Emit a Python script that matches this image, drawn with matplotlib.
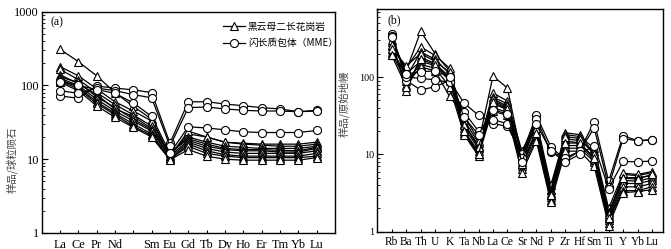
import numpy as np
import matplotlib
matplotlib.use("Agg")
import matplotlib.pyplot as plt
from matplotlib.ticker import LogLocator, NullFormatter, FixedLocator, FixedFormatter

# ---------------- data ----------------
ree_labels = ["La", "Ce", "Pr", "Nd", "", "Sm", "Eu", "Gd", "Tb", "Dy", "Ho", "Er", "Tm", "Yb", "Lu"]

granite_ree = [
    [310, 210, 135, 80, 52, 35, 11, 22, 20, 17, 16.5, 16, 16, 16, 17],
    [180, 135, 90, 60, 45, 33, 11, 24, 20, 17, 16, 15.5, 15, 15, 16],
    [165, 120, 80, 55, 40, 28, 12, 20, 17, 15, 14.5, 14, 14, 14, 15],
    [140, 105, 75, 48, 38, 26, 12, 19, 16, 14, 13.5, 13.5, 13.2, 13, 14.5],
    [130, 110, 70, 50, 35, 25, 11, 18, 15, 13.5, 13, 13, 12.5, 12.5, 14],
    [125, 100, 65, 45, 33, 24, 10.5, 17, 14, 12.5, 12, 12, 12, 12, 13],
    [120, 95, 60, 42, 30, 22, 10, 16, 13, 11.5, 11, 11, 11, 11, 12],
    [115, 90, 57, 40, 28, 21, 10, 15, 12, 11, 10.5, 10.5, 10.5, 10.5, 11],
    [110, 85, 53, 37, 27, 20, 9.8, 13.5, 11, 10, 9.7, 9.7, 9.7, 9.7, 10.5],
]
mme_ree = [
    [72, 67, 98, 92, 87, 80, 16.5, 60, 60, 56, 53, 50, 48, 44, 46],
    [85, 78, 92, 85, 75, 68, 15, 50, 51, 48, 46, 45, 45, 44, 45],
    [112, 100, 88, 78, 58, 38, 12, 27.5, 26.5, 25, 23.5, 23, 23, 23, 24.5],
]

spider_labels = ["Rb", "Ba", "Th", "U", "K", "Ta", "Nb", "La", "Ce", "Sr",
                 "Nd", "P", "Zr", "Hf", "Sm", "Ti", "Y", "Yb", "Lu"]

granite_spider = [
    [280, 120, 390, 200, 120, 28, 14, 103, 72, 9, 25, 3.5, 19, 18, 10, 1.6, 5.5, 5.3, 5.8],
    [250, 130, 245, 190, 130, 25, 13, 62, 49, 11, 27, 4.0, 18, 17, 12, 2.0, 5.7, 5.5, 6.0],
    [230, 100, 210, 170, 110, 22, 12, 55, 45, 10, 24, 3.5, 16, 15, 11, 1.8, 5.0, 5.0, 5.3],
    [300, 65, 180, 150, 100, 20, 11, 50, 40, 8, 20, 3.0, 15, 14, 9, 1.5, 4.6, 4.5, 5.0],
    [210, 110, 160, 140, 90, 19, 10, 45, 38, 7, 18, 2.8, 13, 13, 8.5, 1.4, 4.2, 4.2, 4.6],
    [200, 90, 145, 130, 75, 18, 9.5, 40, 35, 6.5, 16, 2.6, 12, 12, 8, 1.3, 3.8, 3.8, 4.2],
    [260, 80, 135, 120, 56, 32, 15, 36, 32, 5.8, 15, 2.4, 11, 11, 7, 1.2, 3.4, 3.4, 3.8],
    [230, 140, 200, 160, 115, 24, 12.5, 52, 42, 9.5, 22, 3.2, 17, 16, 10, 1.7, 4.9, 4.8, 5.5],
    [190, 75, 170, 145, 95, 20, 10, 47, 39, 7.5, 19, 3.0, 14, 14, 9, 1.5, 3.2, 3.3, 3.5],
]
mme_spider = [
    [360, 90, 68, 75, 90, 46, 32, 25, 23, 10, 32, 12.5, 8.5, 11, 26.5, 4.5, 17.5, 15, 15.5],
    [340, 100, 96, 92, 85, 35, 20, 28, 25, 9, 29, 10.8, 9, 11, 22, 3.8, 16, 15, 15.3],
    [330, 110, 117, 120, 100, 30, 18, 38, 33, 8, 25, 11, 8, 10, 13, 3.6, 8.1, 8, 8.2],
]

legend_labels = ["黑云母二长花岗岩", "闪长质包体（MME）"]
ylabels = ["样品/球粒陨石", "样品/原始地幔"]

# ---------------- style ----------------
serif = ["Liberation Serif", "DejaVu Serif"]
cjk = ["Noto Sans CJK SC", "DejaVu Sans"]
plt.rcParams["font.family"] = serif

fig = plt.figure(figsize=(6.71, 2.49), dpi=100)
axA = fig.add_axes([0.0621, 0.0643, 0.437, 0.889])
axB = fig.add_axes([0.5623, 0.0695, 0.4258, 0.893])

lw = 0.9
tri_kw = dict(color="black", lw=lw, marker="^", ms=5.4, mfc="white", mec="black", mew=0.8)
cir_kw = dict(color="black", lw=lw, marker="o", ms=5.8, mfc="white", mec="black", mew=0.8)


def style_axis(ax, labels, xmax, ylim, yticks, xsize, ysize, xpad):
    n = len(labels)
    x = np.arange(1, n + 1)
    ax.set_yscale("log")
    ax.set_xlim(0, xmax)
    ax.set_ylim(*ylim)
    ax.xaxis.set_major_locator(FixedLocator(x))
    ax.xaxis.set_major_formatter(FixedFormatter(labels))
    ax.yaxis.set_major_locator(FixedLocator(yticks))
    ax.yaxis.set_major_formatter(FixedFormatter([str(v) for v in yticks]))
    ax.yaxis.set_minor_locator(LogLocator(base=10, subs=np.arange(2, 10)))
    ax.yaxis.set_minor_formatter(NullFormatter())
    ax.tick_params(axis="x", direction="in", length=2.5, width=0.8, labelsize=xsize, pad=xpad, top=False)
    ax.tick_params(axis="y", which="major", direction="in", length=4, width=0.8, labelsize=ysize, pad=2, right=False)
    ax.tick_params(axis="y", which="minor", direction="in", length=2, width=0.6, right=False)
    for s in ax.spines.values():
        s.set_linewidth(1.0)
    return x


# ---------------- panel (a) ----------------
xa = style_axis(axA, ree_labels, 16, (1, 1000), [1, 10, 100, 1000], 8.8, 8.8, 4)
hA = None
hC = None
for row in granite_ree:
    l, = axA.plot(xa, row, **tri_kw)
    hA = hA or l
for row in mme_ree:
    l, = axA.plot(xa, row, **cir_kw)
    hC = hC or l
axA.text(0.03, 0.95, "(a)", transform=axA.transAxes, fontsize=8.5, va="center", ha="left")
leg = axA.legend([hA, hC], legend_labels, loc="upper left", bbox_to_anchor=(0.617, 0.955),
                 frameon=False, prop={"family": cjk, "size": 7}, handlelength=2.3,
                 handletextpad=0.3, labelspacing=0.65, borderpad=0, borderaxespad=0)
axA.set_ylabel(ylabels[0], family=cjk, fontsize=7.5, color="#444444")
axA.yaxis.set_label_coords(-0.081, 0.33)

# ---------------- panel (b) ----------------
xb = style_axis(axB, spider_labels, 19.76, (1, 750), [1, 10, 100], 8.3, 7.2, 3)
for row in granite_spider:
    axB.plot(xb, row, **tri_kw)
for row in mme_spider:
    axB.plot(xb, row, **cir_kw)
axB.text(0.035, 0.95, "(b)", transform=axB.transAxes, fontsize=8.5, va="center", ha="left")
axB.set_ylabel(ylabels[1], family=cjk, fontsize=7.5, color="#444444")
axB.yaxis.set_label_coords(-0.096, 0.574)

fig.savefig("out.png", dpi=100)
